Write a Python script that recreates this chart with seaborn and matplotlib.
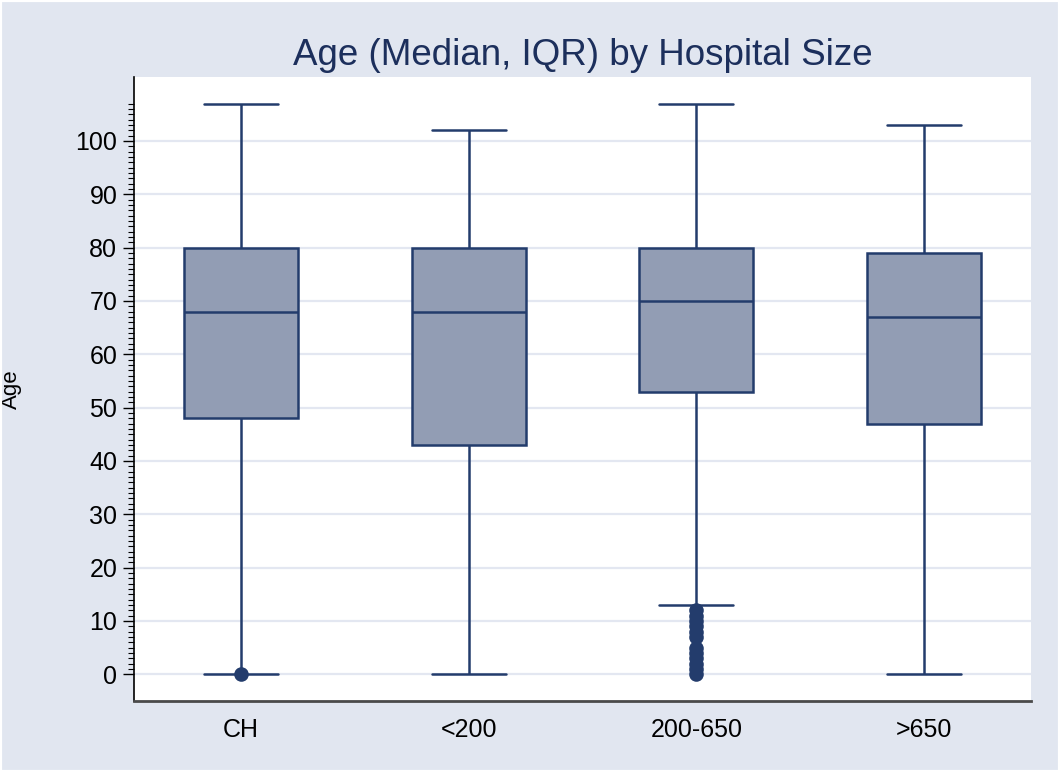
import pandas as pd
import matplotlib.pyplot as plt
from matplotlib.patches import Rectangle
from matplotlib.ticker import FixedLocator
import seaborn as sns

# --- DADOS ---
categorias = ["CH", "<200", "200-650", ">650"]
whisker_baixo = [0, 0, 13, 0]
q1 = [48, 43, 53, 47]
mediana = [68, 68, 70, 67]
q3 = [80, 80, 80, 79]
whisker_alto = [107, 102, 107, 103]

# pontos fora dos bigodes
outliers_ch = [0]
outliers_200_650 = [0, 1, 2, 3, 4, 5, 7, 8, 9, 10, 11, 12]

# --- CORES (estilo Stata s2color) ---
FUNDO = "#E1E6F0"
CAIXA = "#929DB4"
LINHA = "#233C6C"
TITULO = "#1C2F5C"
GRADE = "#E3E7F1"

# cinco valores por grupo -> quartis exatos com percentil linear
linhas = []
for i, cat in enumerate(categorias):
    for v in (whisker_baixo[i], q1[i], mediana[i], q3[i], whisker_alto[i]):
        linhas.append({"grupo": cat, "idade": v})
df = pd.DataFrame(linhas)

df_out = pd.DataFrame({
    "grupo": ["CH"] * len(outliers_ch) + ["200-650"] * len(outliers_200_650),
    "idade": outliers_ch + outliers_200_650,
})

sns.set_style("white")
plt.rcParams['font.family'] = ['Liberation Sans', 'DejaVu Sans']

fig = plt.figure(figsize=(10.6, 7.72), dpi=100, facecolor=FUNDO)
ax = fig.add_axes([0.1264, 0.092, 0.8462, 0.8083])
ax.set_facecolor("white")

sns.boxplot(data=df, x="grupo", y="idade", order=categorias, whis=(0, 100),
            width=0.5, color=CAIXA, saturation=1, linecolor=LINHA,
            linewidth=1.8, showfliers=False, capwidths=0.325, ax=ax)

sns.stripplot(data=df_out, x="grupo", y="idade", order=categorias, jitter=False,
              color=LINHA, size=10.5, linewidth=0, zorder=4, ax=ax)

ax.set_xlim(-0.47, 3.47)
ax.set_ylim(-5, 112)

# eixos e grade
ax.set_yticks(range(0, 101, 10))
ax.yaxis.set_minor_locator(FixedLocator(range(0, 108)))
ax.tick_params(axis="y", which="major", length=8, width=1, color="black",
               labelsize=18, labelcolor="black", pad=4, left=True)
ax.tick_params(axis="y", which="minor", length=4.5, width=0.8, color="black", left=True)
ax.tick_params(axis="x", length=0, labelsize=18, labelcolor="black", pad=12)
ax.yaxis.grid(True, which="major", color=GRADE, linewidth=1.6)
ax.xaxis.grid(False)
ax.set_axisbelow(True)

for lado in ["top", "right"]:
    ax.spines[lado].set_visible(False)
ax.spines["left"].set_color("black")
ax.spines["left"].set_linewidth(1.2)
ax.spines["bottom"].set_color("#4A4A4A")
ax.spines["bottom"].set_linewidth(2)

ax.set_xlabel("")
ax.set_ylabel("Age", fontsize=16, color="black")
ax.yaxis.set_label_coords(-0.125, 0.5)
ax.set_title("Age (Median, IQR) by Hospital Size", fontsize=26.5, color=TITULO, pad=8.6)

# borda branca fina em volta da figura
fig.patches.append(Rectangle((0, 0), 1, 1, transform=fig.transFigure, fill=False,
                             edgecolor="white", linewidth=3))

plt.savefig("out.png", dpi=100, facecolor=FUNDO)
plt.close('all')
